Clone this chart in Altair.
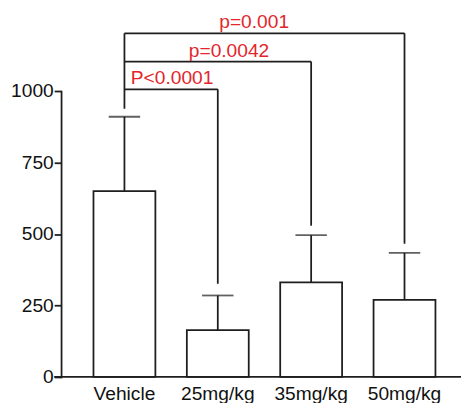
import altair as alt
import pandas as pd

groups = ["Vehicle", "25mg/kg", "35mg/kg", "50mg/kg"]
means = [650, 164, 331, 270]
upper = [910, 285, 496, 434]

cmp_targets = ["25mg/kg", "35mg/kg", "50mg/kg"]
cmp_heights = [1006, 1103, 1202]
cmp_leg_bottom = [326, 529, 466]
cmp_labels = ["P<0.0001", "p=0.0042", "p=0.001"]
vehicle_leg_bottom = 938

y_ticks = [0, 250, 500, 750, 1000]

LINE = "#1e1e1e"
RED = "#e3262b"
FONT = "Liberation Sans"
SW = 1.8

bars = pd.DataFrame({"group": groups, "mean": means, "upper": upper})
cmp = pd.DataFrame({
    "start": ["Vehicle"] * 3,
    "target": cmp_targets,
    "h": cmp_heights,
    "bottom": cmp_leg_bottom,
    "label": cmp_labels,
})
vleg = pd.DataFrame({"group": ["Vehicle"], "top": [max(cmp_heights)], "bottom": [vehicle_leg_bottom]})

xscale = alt.Scale(domain=groups, range=[33, 381], paddingInner=0.337, paddingOuter=0)
yscale = alt.Scale(domain=[0, 1000], nice=False, zero=True)

xaxis = alt.Axis(title=None, domain=False, ticks=False, labelFontSize=19.5, labelFont=FONT,
                 labelColor="#111", labelPadding=8, labelAngle=0)
yaxis = alt.Axis(title=None, domain=True, domainColor=LINE, domainWidth=SW, domainCap="square",
                 values=y_ticks, format="d", tickSize=7, tickColor=LINE,
                 tickWidth=SW, labelFontSize=19.5, labelFont=FONT, labelColor="#111",
                 labelPadding=1, grid=False)

base = alt.Chart(bars)

bar = base.mark_bar(fill="white", stroke=LINE, strokeWidth=SW).encode(
    x=alt.X("group:N", scale=xscale, axis=xaxis, sort=groups),
    y=alt.Y("mean:Q", scale=yscale, axis=yaxis),
)
err = base.mark_rule(color=LINE, strokeWidth=SW).encode(
    x=alt.X("group:N", scale=xscale, sort=groups),
    y="mean:Q", y2="upper:Q",
)
cap = base.mark_tick(color=LINE, thickness=SW, size=32, orient="horizontal").encode(
    x=alt.X("group:N", scale=xscale, sort=groups),
    y="upper:Q",
)

ccmp = alt.Chart(cmp)
hline = ccmp.mark_rule(color=LINE, strokeWidth=SW).encode(
    x=alt.X("start:N", scale=xscale, sort=groups),
    x2="target:N",
    y="h:Q",
)
rleg = ccmp.mark_rule(color=LINE, strokeWidth=SW).encode(
    x=alt.X("target:N", scale=xscale, sort=groups),
    y="h:Q", y2="bottom:Q",
)
lleg = alt.Chart(vleg).mark_rule(color=LINE, strokeWidth=SW).encode(
    x=alt.X("group:N", scale=xscale, sort=groups),
    y="top:Q", y2="bottom:Q",
)

label_dx = [6.5, 65.5, 96.5]
texts = []
for i, lab in enumerate(cmp_labels):
    texts.append(
        alt.Chart(cmp.iloc[[i]]).mark_text(
            align="left", baseline="alphabetic", dx=label_dx[i], dy=-5,
            fontSize=19.5, font=FONT, color=RED,
        ).encode(
            x=alt.X("start:N", scale=xscale, sort=groups),
            y="h:Q",
            text="label:N",
        )
    )

axis_df = pd.DataFrame({"y0": [0]})
xline = alt.Chart(axis_df).mark_rule(color=LINE, strokeWidth=SW).encode(
    x=alt.value(-7), x2=alt.value(407), y="y0:Q",
)

chart = alt.layer(bar, err, cap, hline, rleg, lleg, *texts, xline).properties(
    width=407, height=291,
    autosize=alt.AutoSizeParams(type="none"),
    padding={"left": 54, "top": 81, "right": 0, "bottom": 23},
    background="white",
).configure_view(strokeOpacity=0, strokeWidth=0)

chart.save("out.html", embed_options={"renderer": "svg", "actions": False})
